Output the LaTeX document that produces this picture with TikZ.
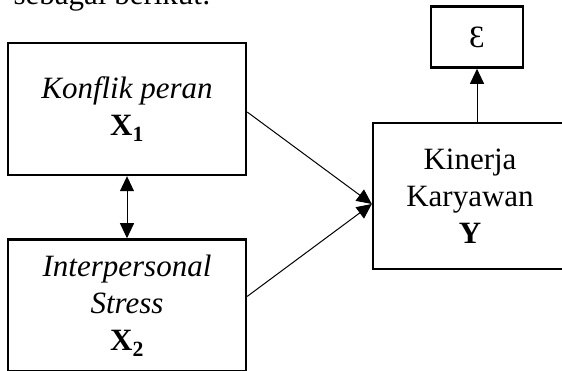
\documentclass[tikz,border=0pt]{standalone}
\usepackage{fontspec}
\setmainfont{Liberation Serif}
\usepackage{tikz}
\usetikzlibrary{positioning,arrows.meta}

\begin{document}
\begin{tikzpicture}[x=1pt,y=1pt,
  box/.style={draw, line width=2.4pt, align=center, inner sep=0pt,
    font=\fontsize{31}{37}\selectfont},
  arr/.style={line width=1pt, -{Triangle[length=15pt,width=14pt]}}]
\clip (0,0) rectangle (562,-370);
\node [anchor=base west, font=\fontsize{31}{37}\selectfont] (intro) at (10,-4.5) {sebagai berikut:};
\node [box, minimum width=238, minimum height=132] (x1) at (127,-109) {\textit{Konflik peran}\\\textbf{X\textsubscript{1}}};
\node [box, minimum width=238, minimum height=132, below=62pt of x1] (x2) {\textit{Interpersonal}\\\textit{Stress}\\\textbf{X\textsubscript{2}}};
\node [box, minimum width=194, minimum height=146] (y) at (470,-196) {Kinerja\\Karyawan\\\textbf{Y}};
\node [box, minimum width=92, minimum height=61, above=53pt of y, xshift=7pt] (eps) {Ɛ};
\draw [arr] ([yshift=-3pt]x1.east) -- ([yshift=-8pt]y.west);
\draw [arr] ([yshift=9pt]x2.east) -- ([yshift=-8pt]y.west);
\draw [arr, {Triangle[length=15pt,width=14pt]}-{Triangle[length=15pt,width=14pt]}] (x1.south) -- (x2.north);
\draw [arr] (eps.south |- y.north) -- (eps.south);
\end{tikzpicture}
\end{document}
